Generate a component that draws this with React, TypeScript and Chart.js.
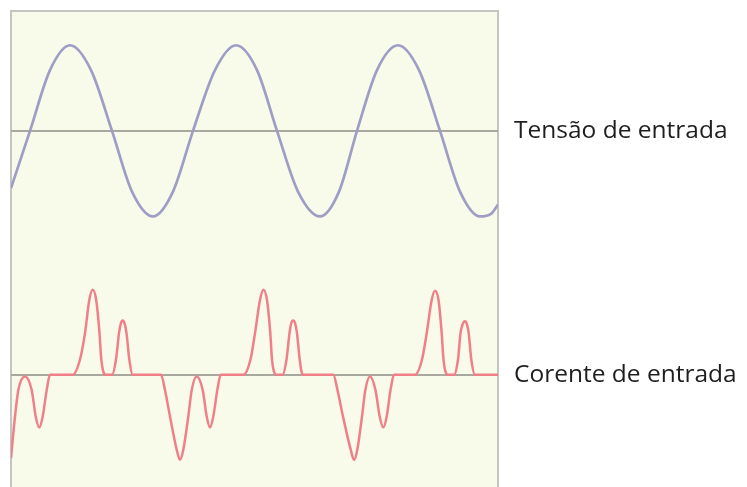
import React, { useEffect, useRef } from "react";
import { Chart, registerables } from "chart.js";

Chart.register(...registerables);

// time axis (arbitrary units, 0 = left edge of the plot)
const voltageX = [0, 19, 39, 59, 80, 101, 121, 142, 162, 182, 204, 225, 246, 266, 287, 309, 328, 346, 366, 387, 408, 429, 449, 469, 480, 487];
const voltageY = [-0.67, 0, 0.71, 1.0, 0.71, 0, -0.71, -1.0, -0.71, 0, 0.71, 1.0, 0.71, 0, -0.71, -1.0, -0.71, 0, 0.71, 1.0, 0.71, 0, -0.71, -1.0, -0.97, -0.86];

const currentX = [
  0, 4, 7.3, 14, 20.7, 24.7, 28.3, 31.7, 35.7, 39,
  61.7, 69, 74, 78.3, 81.7, 85.2, 88.5, 90.3, 95, 101, 105, 108, 110, 111.7, 113.4, 115.5, 118.3, 121.7,
  150, 154, 159, 165.7, 169, 172.3, 177.3, 180.7, 185.7, 191.7, 195.7, 199, 202.3, 206.3, 209.7,
  232.3, 239.5, 244, 249, 252.3, 256, 259.3, 261, 265.7, 271.5, 275.5, 278.5, 280.3, 282.3, 284, 286, 288.7, 291.7,
  322.3, 326.5, 332, 339.7, 343, 346.3, 351, 354.3, 359, 364.5, 368.7, 372.3, 375.7, 379.5, 383,
  404, 411, 415.7, 420.7, 424, 427.5, 430.7, 432.5, 437, 443, 447, 449.5, 451.8, 454, 455.8, 457.7, 460.3, 464,
  487,
];
const currentY = [
  -0.98, -0.49, -0.18, -0.02, -0.18, -0.49, -0.62, -0.49, -0.18, 0,
  0, 0.18, 0.49, 0.88, 1.0, 0.88, 0.49, 0.18, 0, 0, 0.18, 0.49, 0.61, 0.64, 0.61, 0.49, 0.18, 0,
  0, -0.18, -0.49, -0.88, -1.0, -0.88, -0.49, -0.18, -0.02, -0.18, -0.49, -0.62, -0.49, -0.18, 0,
  0, 0.18, 0.49, 0.88, 1.0, 0.88, 0.49, 0.18, 0, 0, 0.18, 0.49, 0.61, 0.64, 0.61, 0.49, 0.18, 0,
  0, -0.18, -0.49, -0.88, -1.0, -0.88, -0.49, -0.18, -0.02, -0.18, -0.49, -0.62, -0.49, -0.18, 0,
  0, 0.18, 0.49, 0.88, 0.99, 0.88, 0.49, 0.18, 0, 0, 0.18, 0.49, 0.6, 0.63, 0.6, 0.49, 0.18, 0,
  0,
];

const traceLabels = ["Tensão de entrada", "Corente de entrada"];
// baseline of each trace on the label axis (voltage units)
const traceBaselines = [0, -2.854];

const areaPlugin = {
  id: "areaPlugin",
  beforeDraw(chart: any) {
    const { ctx, chartArea } = chart;
    if (!chartArea) return;
    ctx.save();
    ctx.fillStyle = "#f8faea";
    ctx.fillRect(chartArea.left, chartArea.top, chartArea.right - chartArea.left, chartArea.bottom - chartArea.top);
    ctx.strokeStyle = "#c4c4c0";
    ctx.lineWidth = 2;
    ctx.strokeRect(chartArea.left, chartArea.top, chartArea.right - chartArea.left, chartArea.bottom - chartArea.top);
    ctx.restore();
  },
};

export default function App() {
  const ref = useRef<HTMLCanvasElement>(null);

  useEffect(() => {
    if (!ref.current) return;
    const chart = new Chart(ref.current, {
      type: "line",
      data: {
        datasets: [
          {
            label: traceLabels[0],
            data: voltageX.map((x, i) => ({ x, y: voltageY[i] })),
            yAxisID: "yV",
            borderColor: "#9e9dc6",
            borderWidth: 2.7,
            pointRadius: 0,
            cubicInterpolationMode: "monotone",
          },
          {
            label: traceLabels[1],
            data: currentX.map((x, i) => ({ x, y: currentY[i] })),
            yAxisID: "yI",
            borderColor: "#f07f88",
            borderWidth: 2.5,
            pointRadius: 0,
            cubicInterpolationMode: "monotone",
          },
        ],
      },
      options: {
        animation: false,
        responsive: false,
        events: [],
        layout: { padding: { left: 11, top: 11, right: 0, bottom: 10 } },
        plugins: { legend: { display: false }, tooltip: { enabled: false } },
        scales: {
          x: { type: "linear", min: 0, max: 487, display: false },
          yV: { type: "linear", min: -4.43, max: 1.4, display: false },
          yI: { type: "linear", min: -1.59, max: 4.28, display: false },
          yL: {
            type: "linear",
            position: "right",
            min: -4.43,
            max: 1.4,
            afterBuildTicks: (axis: any) => {
              axis.ticks = traceBaselines.map((v) => ({ value: v }));
            },
            afterFit: (axis: any) => {
              axis.width = 249;
              axis.paddingTop = 0;
              axis.paddingBottom = 0;
            },
            grid: { color: "#a8a89e", lineWidth: 2, drawTicks: false },
            border: { display: false },
            ticks: {
              padding: 16,
              color: "#1e1e1e",
              font: { family: "'Open Sans', sans-serif", size: 24.5 },
              callback: (_v: any, i: number) => traceLabels[i],
            },
          },
        },
      },
      plugins: [areaPlugin],
    } as any);
    return () => chart.destroy();
  }, []);

  return (
    <div style={{ position: "fixed", left: 0, top: 0, width: 747, height: 487, overflow: "hidden", background: "#fff" }}>
      <canvas ref={ref} width={747} height={520} style={{ display: "block" }} />
    </div>
  );
}
